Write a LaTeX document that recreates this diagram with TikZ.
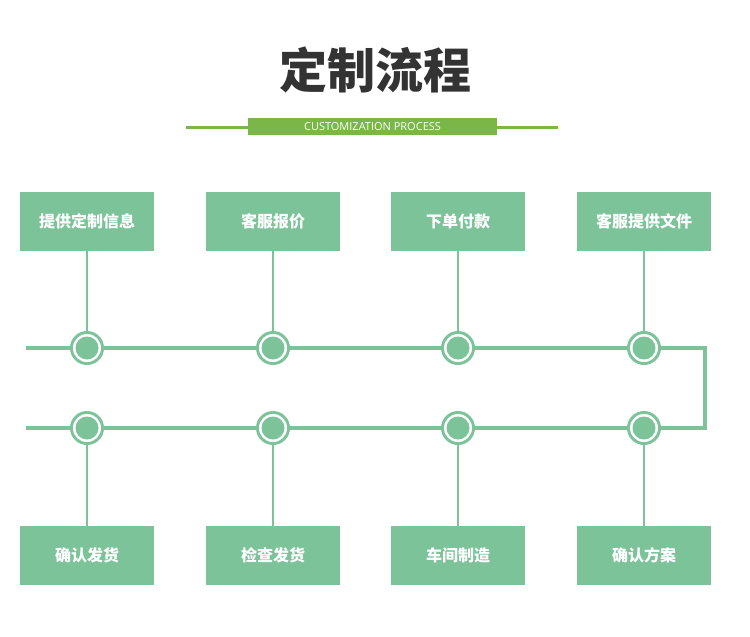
\documentclass[tikz,border=0pt]{standalone}
\usepackage{fontspec}
\newfontfamily\cjk{Noto Sans CJK SC}
\setsansfont{Open Sans}
\begin{document}
\begin{tikzpicture}[x=1pt,y=-1pt,
  box/.style={fill=grn,minimum width=134pt,minimum height=59pt,inner sep=0pt,text=white,font=\cjk\bfseries\fontsize{16}{18}\selectfont},
  lk/.style={draw=grn,line width=2pt},
  main/.style={draw=grn,line width=4pt},
  dot/.style={circle,fill=grn,minimum size=24pt,inner sep=0pt,draw=white,line width=3pt,double=grn,double distance=0pt}]
\definecolor{grn}{HTML}{7CC39A}
\definecolor{lg}{HTML}{7AB648}
\useasboundingbox (0,0) rectangle (750,637);
\fill[white] (0,0) rectangle (750,637);
\node[font=\cjk\bfseries\fontsize{48}{50}\selectfont,text=black!80] (title) at (375,70) {定制流程};
\coordinate (l1) at (186,127); \coordinate (l2) at (558,127);
\draw[lg,line width=3pt] (l1) -- (l2);
\node[fill=lg,minimum width=249pt,minimum height=17pt,inner sep=0pt,text=white,font=\sffamily\fontsize{11}{12}\selectfont] (sub) at (372.5,126.5) {CUSTOMIZATION PROCESS};
\coordinate (s1) at (26,348); \coordinate (c1) at (705,348); \coordinate (c2) at (705,428); \coordinate (s2) at (26,428);
\draw[main] (s1) -- (c1) -- (c2) -- (s2);
\foreach \i/\x/\t/\b in {1/87/提供定制信息/确认发货,2/273/客服报价/检查发货,3/458/下单付款/车间制造,4/644/客服提供文件/确认方案}{
  \node[box] (t\i) at (\x,221.5) {\t};
  \node[box] (b\i) at (\x,555) {\b};
  \node[circle,fill=grn,minimum size=34pt,inner sep=0pt] (o\i) at (\x,348) {};
  \node[circle,fill=white,minimum size=28pt,inner sep=0pt] at (\x,348) {};
  \node[circle,fill=grn,minimum size=23pt,inner sep=0pt] at (\x,348) {};
  \node[circle,fill=grn,minimum size=34pt,inner sep=0pt] (p\i) at (\x,428) {};
  \node[circle,fill=white,minimum size=28pt,inner sep=0pt] at (\x,428) {};
  \node[circle,fill=grn,minimum size=23pt,inner sep=0pt] at (\x,428) {};
  \draw[lk] ([yshift=6pt]t\i.south) -- (o\i.north);
  \draw[lk] (p\i.south) -- ([yshift=-6pt]b\i.north);
}
\end{tikzpicture}
\end{document}
